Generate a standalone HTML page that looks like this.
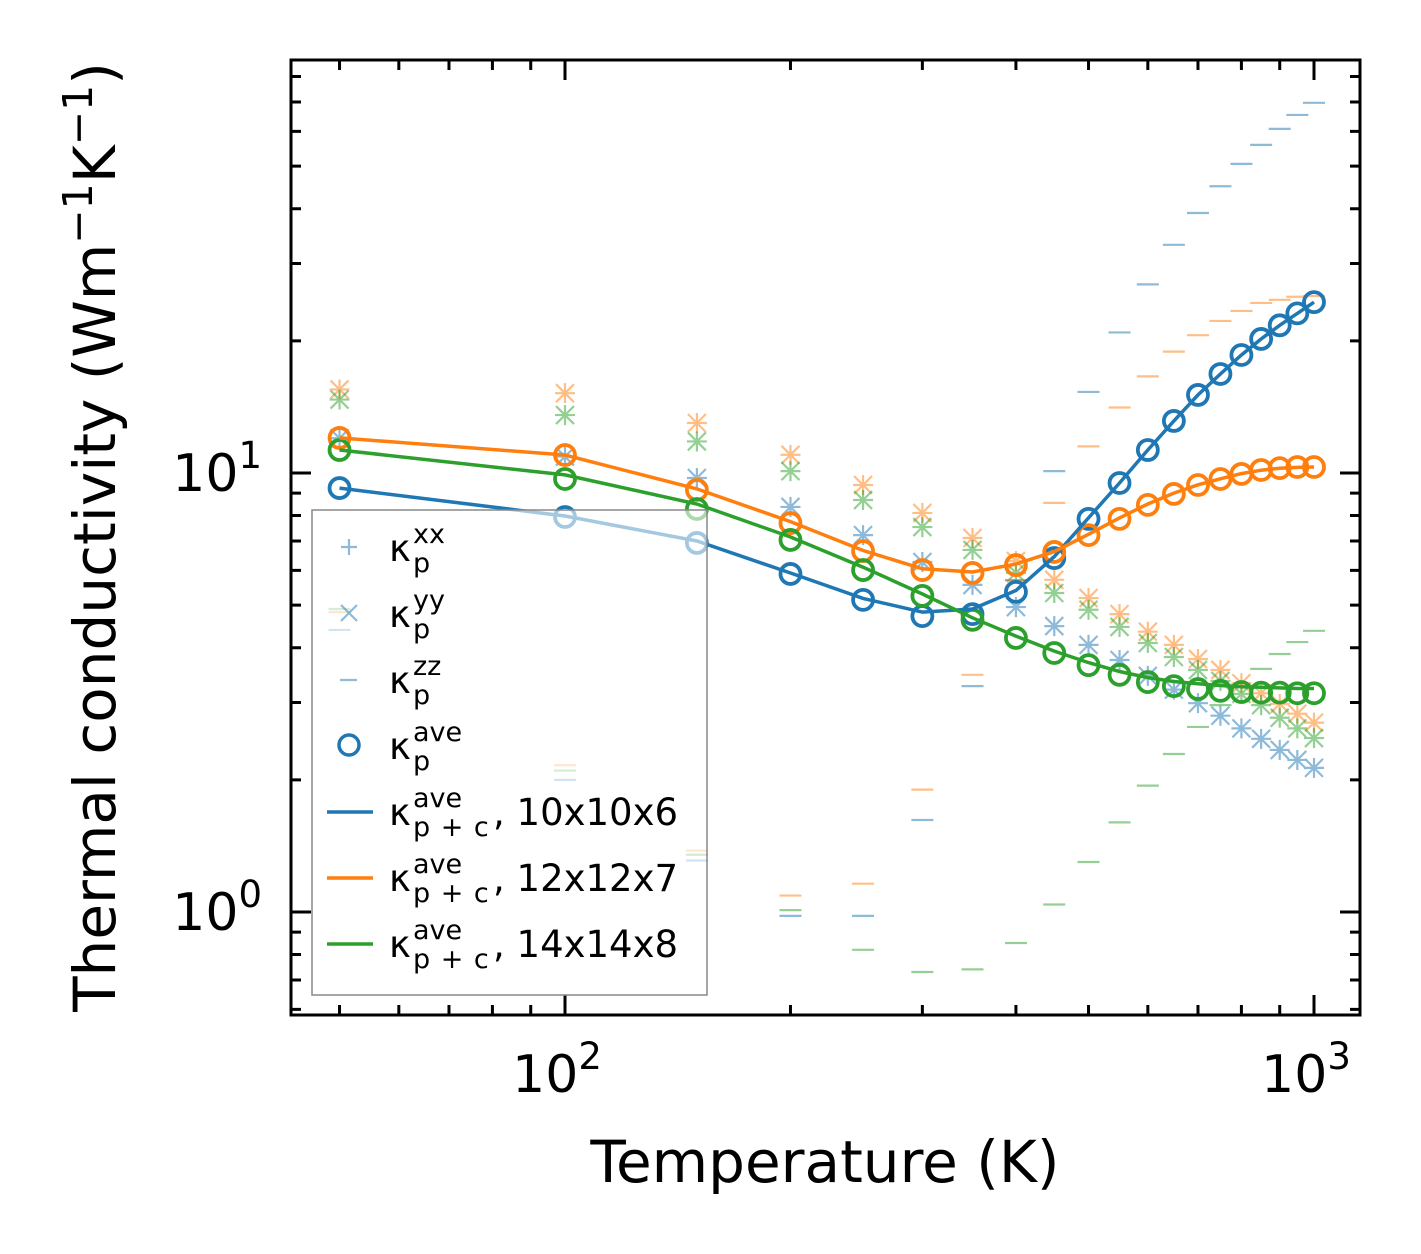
<!DOCTYPE html>
<html><head><meta charset="utf-8"><style>
html,body{margin:0;padding:0;background:#fff;}
svg{display:block;font-family:"DejaVu Sans","Liberation Sans",sans-serif;}
</style></head><body>
<svg id="chart" width="1421" height="1254" viewBox="0 0 1421 1254" xmlns="http://www.w3.org/2000/svg">
<rect width="1421" height="1254" fill="#fff"/>
<g id="plot"></g>
<g id="axes"></g>
<text x="825" y="1182" text-anchor="middle" font-size="58">Temperature (K)</text>
<text transform="translate(115,537) rotate(-90)" text-anchor="middle" font-size="58">Thermal conductivity (Wm<tspan dy="-23" font-size="41">−1</tspan><tspan dy="23">K</tspan><tspan dy="-23" font-size="41">−1</tspan><tspan dy="23">)</tspan></text>
<g>
<rect x="312" y="510" width="395" height="485" fill="#fff" fill-opacity="0.6" stroke="#888" stroke-width="1.5"/>
<g stroke="#1f77b4" stroke-width="2.2" fill="none" opacity="0.5">
<path d="M341 547H357M349 539V555"/>
<path d="M341 605L357 621M341 621L357 605"/>
<path d="M340 680H357"/>
</g>
<circle cx="349" cy="745" r="10" stroke="#1f77b4" stroke-width="3.5" fill="none"/>
<path d="M327 812H373" stroke="#1f77b4" stroke-width="3.5"/>
<path d="M327 878H373" stroke="#ff7f0e" stroke-width="3.5"/>
<path d="M327 944H373" stroke="#2ca02c" stroke-width="3.5"/>
<g font-size="37" fill="#000">
<text x="389" y="561">κ</text><text x="413" y="572" font-size="27">p</text><text x="413" y="543" font-size="27">xx</text>
<text x="389" y="627">κ</text><text x="413" y="638" font-size="27">p</text><text x="413" y="609" font-size="27">yy</text>
<text x="389" y="693">κ</text><text x="413" y="704" font-size="27">p</text><text x="413" y="675" font-size="27">zz</text>
<text x="389" y="759">κ</text><text x="413" y="770" font-size="27">p</text><text x="413" y="741" font-size="27">ave</text>
<text x="389" y="825">κ</text><text x="413" y="836" font-size="27" letter-spacing="1">p + c</text><text x="413" y="807" font-size="27">ave</text><text x="493" y="825">, 10x10x6</text>
<text x="389" y="891">κ</text><text x="413" y="902" font-size="27" letter-spacing="1">p + c</text><text x="413" y="873" font-size="27">ave</text><text x="493" y="891">, 12x12x7</text>
<text x="389" y="957">κ</text><text x="413" y="968" font-size="27" letter-spacing="1">p + c</text><text x="413" y="939" font-size="27">ave</text><text x="493" y="957">, 14x14x8</text>
</g>
</g>
</svg>
<script>
const temps=[50,100,150,200,250,300,350,400,450,500,550,600,650,700,750,800,850,900,950,1000];
const blueAve=[9.24,7.94,6.93,5.89,5.14,4.72,4.77,5.36,6.40,7.86,9.49,11.28,13.14,15.06,16.81,18.57,20.2,21.7,23.1,24.5];
const orangeAve=[12.02,10.99,9.15,7.69,6.64,6.01,5.92,6.17,6.61,7.22,7.86,8.46,8.96,9.39,9.69,9.95,10.16,10.26,10.32,10.32];
const greenAve=[11.28,9.69,8.28,7.04,6.01,5.25,4.63,4.21,3.89,3.65,3.47,3.34,3.27,3.22,3.19,3.17,3.16,3.16,3.15,3.15];
const blueLine=[9.24,7.98,7.0,5.92,5.18,4.82,4.9,5.4,6.45,7.9,9.49,11.28,13.14,15.06,16.81,18.57,20.2,21.7,23.1,24.5];
const orangeLine=[12.02,10.99,9.2,7.75,6.66,6.05,5.95,6.2,6.62,7.25,7.9,8.5,9.0,9.4,9.7,9.97,10.15,10.25,10.3,10.32];
const greenLine=[11.28,9.9,8.5,7.15,6.1,5.3,4.68,4.25,3.93,3.7,3.53,3.42,3.35,3.31,3.28,3.26,3.25,3.24,3.23,3.23];
const blueXX=[12.0,10.9,9.74,8.37,7.22,6.27,5.56,4.95,4.48,4.06,3.75,3.45,3.21,2.99,2.80,2.62,2.48,2.34,2.22,2.13];
const blueZZ=[4.39,2.0,1.31,0.98,0.98,1.62,3.27,5.7,10.1,15.3,20.9,26.9,33.1,39.1,45.0,50.6,55.9,60.8,65.4,69.7];
const orangeXX=[15.5,15.2,13.0,11.0,9.39,8.11,7.11,6.3,5.71,5.19,4.77,4.35,4.06,3.77,3.56,3.32,3.15,2.98,2.83,2.70];
const orangeZZ=[4.82,2.16,1.38,1.09,1.16,1.90,3.47,5.7,8.55,11.5,14.1,16.6,18.9,20.6,22.2,23.4,24.4,24.8,25.2,25.3];
const greenXX=[14.7,13.55,11.8,10.1,8.68,7.53,6.68,5.92,5.33,4.88,4.46,4.10,3.81,3.56,3.36,3.14,2.96,2.77,2.62,2.49];
const greenZZ=[4.9,2.1,1.35,1.01,0.82,0.73,0.74,0.85,1.04,1.30,1.60,1.94,2.29,2.64,2.96,3.26,3.58,3.87,4.12,4.37];
const xTickVals=[100,1000];
const yTickVals=[1,10];

const L=291,R=1360,T=60,B=1015;
const X=t=>565+749*(Math.log10(t)-2);
const Y=v=>473-439*(Math.log10(v)-1);
const NS="http://www.w3.org/2000/svg";
function mk(tag,attrs,parent){const e=document.createElementNS(NS,tag);for(const k in attrs)e.setAttribute(k,attrs[k]);parent.appendChild(e);return e;}
const plot=document.getElementById('plot'),axes=document.getElementById('axes');
const C={b:'#1f77b4',o:'#ff7f0e',g:'#2ca02c'};

function drawScatter(vals,color,kind,name){
  const g=mk('g',{opacity:0.5,stroke:color,'stroke-width':2.2,fill:'none'},plot);
  
  
  vals.forEach((v,i)=>{
    const x=X(temps[i]),y=Y(v);
    if(kind==='xx'){
      const p=mk('path',{d:`M${x-10} ${y}H${x+10}M${x} ${y-10}V${y+10}`},g);
      
      
      const q=mk('path',{d:`M${x-9} ${y-9}L${x+9} ${y+9}M${x-9} ${y+9}L${x+9} ${y-9}`},g);
      
      
    } else {
      const p=mk('path',{d:`M${x-11} ${y}H${x+11}`},g);
      
      
    }
  });
}
drawScatter(blueXX,C.b,'xx','blue-kappa-xx-yy');
drawScatter(orangeXX,C.o,'xx','orange-kappa-xx-yy');
drawScatter(greenXX,C.g,'xx','green-kappa-xx-yy');
drawScatter(blueZZ,C.b,'zz','blue-kappa-zz');
drawScatter(orangeZZ,C.o,'zz','orange-kappa-zz');
drawScatter(greenZZ,C.g,'zz','green-kappa-zz');

function drawLine(vals,color,name){
  const d=vals.map((v,i)=>(i?'L':'M')+X(temps[i]).toFixed(1)+' '+Y(v).toFixed(1)).join('');
  const p=mk('path',{d,stroke:color,'stroke-width':3.5,fill:'none'},plot);
  
  
}
function drawCircles(vals,color,name){
  const g=mk('g',{stroke:color,'stroke-width':3.8,fill:'none'},plot);
  
  
  vals.forEach((v,i)=>{
    const c=mk('circle',{cx:X(temps[i]),cy:Y(v),r:10},g);
    
    
  });
}
drawCircles(blueAve,C.b,'blue-kappa-ave');
drawCircles(orangeAve,C.o,'orange-kappa-ave');
drawCircles(greenAve,C.g,'green-kappa-ave');
drawLine(blueLine,C.b,'line-10x10x6');
drawLine(orangeLine,C.o,'line-12x12x7');
drawLine(greenLine,C.g,'line-14x14x8');

const fr=mk('rect',{x:L,y:T,width:R-L,height:B-T,fill:'none',stroke:'#000','stroke-width':3},axes);


let td='';
for(let dec=10;dec<=1000;dec*=10){for(let k=1;k<10;k++){const t=k*dec;const x=X(t);if(x<L||x>R)continue;const len=k===1?20:10;td+=`M${x} ${B}V${B-len}M${x} ${T}V${T+len}`;}}
for(let dec=0.1;dec<=100;dec*=10){for(let k=1;k<10;k++){const v=k*dec;const y=Y(v);if(y<T||y>B)continue;const len=k===1?20:10;td+=`M${L} ${y}H${L+len}M${R} ${y}H${R-len}`;}}
const tp=mk('path',{d:td,stroke:'#000','stroke-width':3,fill:'none'},axes);


xTickVals.forEach(t=>{
  const e=Math.round(Math.log10(t));
  const tx=mk('text',{x:X(t)-8,y:1092,'text-anchor':'middle','font-size':52},axes);
  
  
  tx.textContent='10';
  const s=mk('tspan',{dy:-23,'font-size':37},tx);
  s.textContent=String(e);
});
yTickVals.forEach(v=>{
  const e=Math.round(Math.log10(v));
  const tx=mk('text',{x:262,y:Y(v)+18,'text-anchor':'end','font-size':52},axes);
  
  
  tx.textContent='10';
  const s=mk('tspan',{dy:-23,'font-size':37},tx);
  s.textContent=String(e);
});
</script>
</body></html>
